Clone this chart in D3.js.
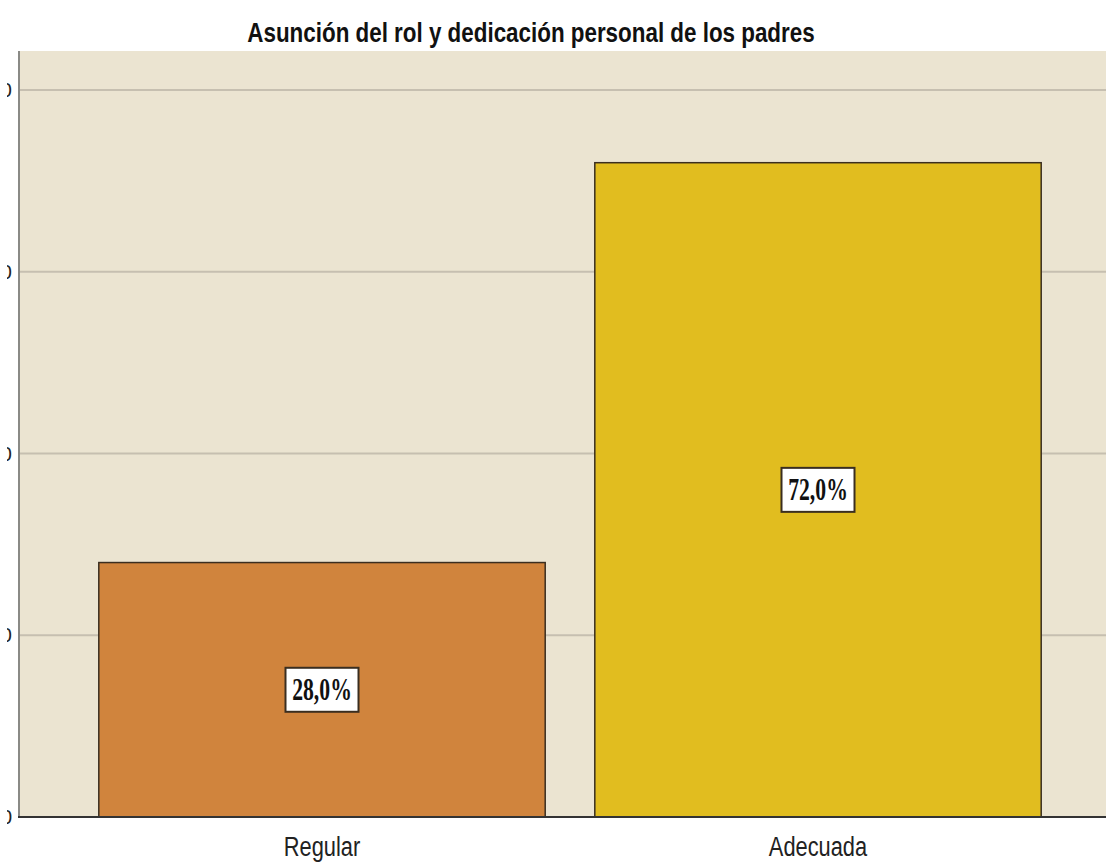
<!DOCTYPE html>
<html><head><meta charset="utf-8">
<script src="https://cdn.jsdelivr.net/npm/d3@7"></script>
<style>body{margin:0;background:#fff}svg{display:block}</style>
</head><body><svg id="c" width="1106" height="863"></svg>
<script>
const categories = ["Regular", "Adecuada"];
const values = [28.0, 72.0];
const labels = ["28,0%", "72,0%"];
const yTicks = [0, 20, 40, 60, 80];
const colors = ["#d0843d", "#e1bd1f"];
const title = "Asunción del rol y dedicación personal de los padres";

const svg = d3.select("#c");
const plotLeft = 20, plotRight = 1106, plotTop = 51, plotBottom = 817;
const y = d3.scaleLinear().domain([0, 80]).range([plotBottom, 90]);
const x = d3.scaleBand().domain(categories).range([74, 1066]).paddingInner(0.1).paddingOuter(0.05);

function squeeze(sel, sx) {
  sel.attr("transform", function() {
    const tx = +this.getAttribute("x"), ty = +this.getAttribute("y");
    return `translate(${tx},${ty}) scale(${sx},1) translate(${-tx},${-ty})`;
  });
}

svg.append("rect").attr("x", plotLeft).attr("y", plotTop).attr("width", plotRight - plotLeft).attr("height", plotBottom - plotTop).attr("fill", "#ebe4d1");

svg.append("g").selectAll("line").data(yTicks.filter(d => d > 0)).join("line")
  .attr("x1", plotLeft).attr("x2", plotRight).attr("y1", d => y(d)).attr("y2", d => y(d))
  .attr("stroke", "#c6bfb0").attr("stroke-width", 2);

// left axis tick labels (only their right edge is visible in the reference)
svg.append("clipPath").attr("id", "lc").append("rect").attr("x", 7).attr("y", 0).attr("width", 20).attr("height", 863);
svg.append("g").attr("clip-path", "url(#lc)").selectAll("text").data(yTicks).join("text")
  .attr("x", 12).attr("y", d => y(d) + 7).attr("text-anchor", "end")
  .attr("font-family", "Liberation Sans, Arial, sans-serif").attr("font-size", 20).attr("fill", "#222")
  .text(d => d);

svg.append("line").attr("x1", plotLeft - 1).attr("x2", plotLeft - 1).attr("y1", plotTop).attr("y2", plotBottom)
  .attr("stroke", "#8a8a86").attr("stroke-width", 2);

svg.append("g").selectAll("rect").data(categories).join("rect")
  .attr("x", d => x(d)).attr("width", x.bandwidth())
  .attr("y", (d, i) => y(values[i])).attr("height", (d, i) => plotBottom - y(values[i]))
  .attr("fill", (d, i) => colors[i]).attr("stroke", "#3a2e20").attr("stroke-width", 1.5);

svg.append("line").attr("x1", plotLeft - 2).attr("x2", plotRight).attr("y1", plotBottom).attr("y2", plotBottom)
  .attr("stroke", "#333").attr("stroke-width", 2);

// value labels
const lg = svg.append("g").selectAll("g").data(categories).join("g")
  .attr("transform", (d, i) => `translate(${x(d) + x.bandwidth() / 2},${y(values[i] / 2)})`);
lg.append("rect").attr("x", -36.5).attr("y", -22).attr("width", 73).attr("height", 44)
  .attr("fill", "#fff").attr("stroke", "#3a2e20").attr("stroke-width", 2);
lg.append("text").attr("text-anchor", "middle").attr("x", 0).attr("y", 10.5)
  .attr("font-family", "Liberation Serif, Times New Roman, serif").attr("font-weight", "bold").attr("font-size", 31)
  .attr("fill", "#111").text((d, i) => labels[i])
  .call(squeeze, 0.7);

// x labels
svg.append("g").selectAll("text").data(categories).join("text")
  .attr("x", d => x(d) + x.bandwidth() / 2).attr("y", 856).attr("text-anchor", "middle")
  .attr("font-family", "Liberation Sans, Arial, sans-serif").attr("font-size", 28).attr("fill", "#222")
  .text(d => d)
  .call(squeeze, 0.78);

svg.append("text").attr("x", 531).attr("y", 42).attr("text-anchor", "middle")
  .attr("font-family", "Liberation Sans, Arial, sans-serif").attr("font-weight", "bold").attr("font-size", 28).attr("fill", "#111")
  .text(title)
  .call(squeeze, 0.8);
</script></body></html>
